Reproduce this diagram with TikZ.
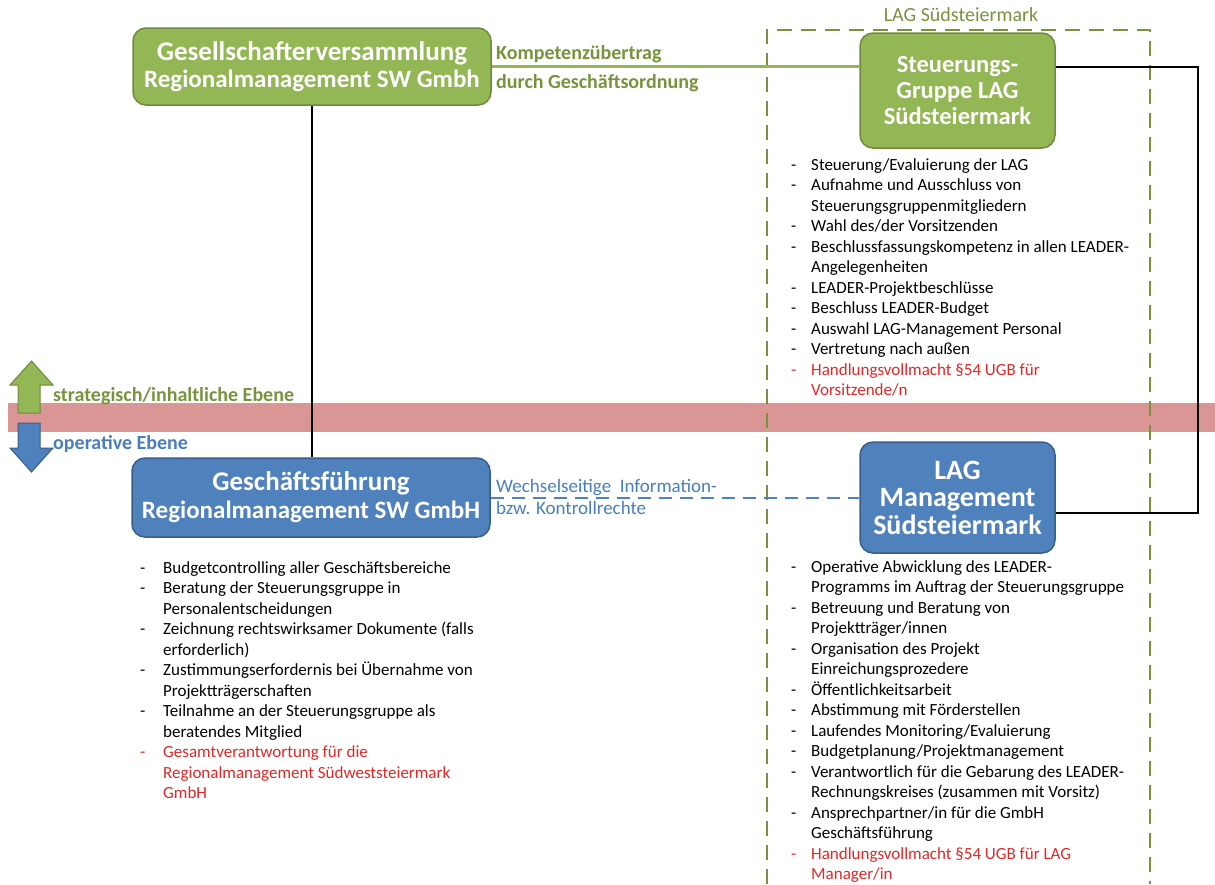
\documentclass[tikz,border=0pt]{standalone}
\usepackage{fontspec}
\setmainfont{Carlito}
\usetikzlibrary{positioning}

\definecolor{olivefill}{RGB}{146,183,84}
\definecolor{olivedraw}{RGB}{113,137,63}
\definecolor{olivetext}{RGB}{119,147,60}
\definecolor{bluefill}{RGB}{79,129,189}
\definecolor{bluedraw}{RGB}{56,93,138}
\definecolor{bluetext}{RGB}{74,126,187}
\definecolor{bandred}{RGB}{217,150,148}
\definecolor{listred}{RGB}{222,40,40}

\newcommand{\hl}{\leavevmode\color{listred}}

\tikzset{
  greenbox/.style={draw=olivedraw, fill=olivefill, line width=1.5pt, rounded corners=13pt,
    text=white, align=center, inner sep=0pt},
  bluebox/.style={greenbox, draw=bluedraw, fill=bluefill},
  dutylist/.style={anchor=base west, inner sep=0pt, font=\fontsize{17}{20.5}\selectfont},
  edgelabel/.style={anchor=base west, inner sep=0pt, align=left},
}

\begin{document}
\begin{tikzpicture}[x=1pt, y=-1pt]
        \useasboundingbox (0,0) rectangle (1215,884);

        % band between the two levels
        \fill[bandred] (8,403) rectangle (1215,432);
        \filldraw[fill=olivefill, draw=olivedraw, line width=1pt]
          (18,413) -- (18,385) -- (10,385) -- (31.5,361) -- (53,385) -- (40,385) -- (40,413) -- cycle;
        \filldraw[fill=bluefill, draw=bluedraw, line width=1pt]
          (18,423) -- (18,448) -- (10,448) -- (31.5,472) -- (53,448) -- (40,448) -- (40,423) -- cycle;
        \node[edgelabel, text=olivetext, font=\bfseries\fontsize{20}{24}\selectfont] (strat) at (53,401) {strategisch/inhaltliche Ebene};
        \node[edgelabel, text=bluetext, font=\bfseries\fontsize{20}{24}\selectfont] (oper) at (53,449) {operative Ebene};

        % LAG frame
        \draw[olivetext, line width=2.5pt, dash pattern=on 15pt off 9pt]
          (767,884) -- (767,30) -- (1150,30) -- (1150,884);
        \node[anchor=base, inner sep=0pt, text=olivetext, font=\fontsize{20}{24}\selectfont] (lagtitle) at (961,21) {LAG Südsteiermark};

        % boxes
        \node[greenbox, minimum width=358pt, minimum height=77pt, font=\bfseries\fontsize{25}{27}\selectfont] (gesv) at (312,66.5)
          {{\fontsize{27}{27}\selectfont Gesellschafterversammlung}\\
           Regionalmanagement SW Gmbh};
        \node[greenbox, minimum width=195pt, minimum height=115pt, font=\bfseries\fontsize{24.5}{26}\selectfont] (steu) at (957.5,90.5)
          {Steuerungs-\\Gruppe LAG\\Südsteiermark};
        \node[bluebox, minimum width=358pt, minimum height=79pt, font=\bfseries\fontsize{25}{28}\selectfont] (gf) at (311,497.5)
          {{\fontsize{27}{28}\selectfont Geschäftsführung}\\
           Regionalmanagement SW GmbH};
        \node[bluebox, minimum width=195pt, minimum height=111pt, font=\bfseries\fontsize{28}{27.5}\selectfont] (mgmt) at (957.5,497.5)
          {LAG\\Management\\Südsteiermark};

        % connectors
        \coordinate (rbend) at (1198,66.5);
        \draw[line width=2pt] (gesv.south) -- (gesv.south |- gf.north);
        \draw[olivefill, line width=3pt] (gesv.east) -- (gesv.east -| steu.west);
        \draw[bluefill, line width=2pt, dash pattern=on 13pt off 8pt] (gf.east) -- (gf.east -| mgmt.west);
        \draw[line width=2pt] (gesv.east -| steu.east) -- (rbend) |- ([yshift=-15.5pt]mgmt.east);

        \node[edgelabel, text=olivetext, font=\bfseries\fontsize{20}{29}\selectfont] (kompl) at (496,88)
          {Kompetenzübertrag\\durch Geschäftsordnung};
        \node[edgelabel, text=bluetext, font=\fontsize{19}{22}\selectfont] (wechsl) at (496,514)
          {Wechselseitige~~Information-\\bzw. Kontrollrechte};

        % duties
        \node[dutylist] (gflist) at (140,573) {\begin{tabular}[t]{@{}p{23pt}@{}l@{}}
          - & Budgetcontrolling aller Geschäftsbereiche\\
          - & Beratung der Steuerungsgruppe in\\
            & Personalentscheidungen\\
          - & Zeichnung rechtswirksamer Dokumente (falls\\
            & erforderlich)\\
          - & Zustimmungserfordernis bei Übernahme von\\
            & Projektträgerschaften\\
          - & Teilnahme an der Steuerungsgruppe als\\
            & beratendes Mitglied\\
          \hl - & \hl Gesamtverantwortung für die\\
            & \hl Regionalmanagement Südweststeiermark\\
            & \hl GmbH
        \end{tabular}};
        \node[dutylist] (steulist) at (791,170) {\begin{tabular}[t]{@{}p{20pt}@{}l@{}}
          - & Steuerung/Evaluierung der LAG\\
          - & Aufnahme und Ausschluss von\\
            & Steuerungsgruppenmitgliedern\\
          - & Wahl des/der Vorsitzenden\\
          - & Beschlussfassungskompetenz in allen LEADER-\\
            & Angelegenheiten\\
          - & LEADER-Projektbeschlüsse\\
          - & Beschluss LEADER-Budget\\
          - & Auswahl LAG-Management Personal\\
          - & Vertretung nach außen\\
          \hl - & \hl Handlungsvollmacht §54 UGB für\\
            & \hl Vorsitzende/n
        \end{tabular}};
        \node[dutylist] (mgmtlist) at (791,572) {\begin{tabular}[t]{@{}p{20pt}@{}l@{}}
          - & Operative Abwicklung des LEADER-\\
            & Programms im Auftrag der Steuerungsgruppe\\
          - & Betreuung und Beratung von\\
            & Projektträger/innen\\
          - & Organisation des Projekt\\
            & Einreichungsprozedere\\
          - & Öffentlichkeitsarbeit\\
          - & Abstimmung mit Förderstellen\\
          - & Laufendes Monitoring/Evaluierung\\
          - & Budgetplanung/Projektmanagement\\
          - & Verantwortlich für die Gebarung des LEADER-\\
            & Rechnungskreises (zusammen mit Vorsitz)\\
          - & Ansprechpartner/in für die GmbH\\
            & Geschäftsführung\\
          \hl - & \hl Handlungsvollmacht §54 UGB für LAG\\
            & \hl Manager/in
        \end{tabular}};
    \end{tikzpicture}
\end{document}
